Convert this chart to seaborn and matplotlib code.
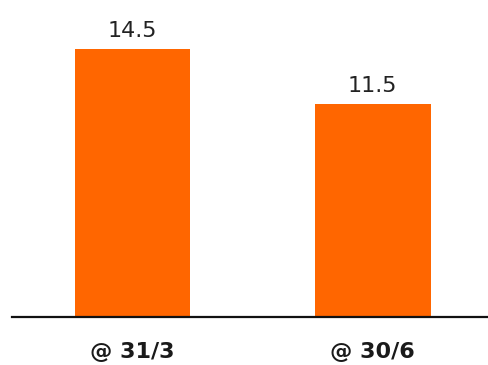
import matplotlib
matplotlib.use("Agg")
import matplotlib.pyplot as plt
import seaborn as sns
import pandas as pd

categories = ["@ 31/3", "@ 30/6"]
values = [14.5, 11.5]
value_labels = ["14.5", "11.5"]

df = pd.DataFrame({"cat": categories, "val": values})

sns.set_style("white")
plt.rcParams["font.family"] = ["DejaVu Sans"]

fig = plt.figure(figsize=(4.89, 3.65), dpi=100)
ax = fig.add_axes([12 / 489, (365 - 317) / 365, 477 / 489, 317 / 365])

sns.barplot(data=df, x="cat", y="val", color="#FF6600", saturation=1,
            width=0.483, ax=ax)
for p in ax.patches:
    p.set_edgecolor("none")

ax.set_xlim(-0.502, 1.485)
ax.set_ylim(0, 17.15)
ax.set_xlabel("")
ax.set_ylabel("")
ax.set_yticks([])
for s in ["top", "left", "right"]:
    ax.spines[s].set_visible(False)
ax.spines["bottom"].set_color("#111111")
ax.spines["bottom"].set_linewidth(1.6)

ax.tick_params(axis="x", length=0, pad=18)
for lab in ax.get_xticklabels():
    lab.set_fontweight("bold")
    lab.set_fontsize(16)
    lab.set_color("#1a1a1a")

ax.bar_label(ax.containers[0], labels=value_labels, padding=6,
             fontsize=16, color="#222222")

fig.savefig("out.png", dpi=100)
